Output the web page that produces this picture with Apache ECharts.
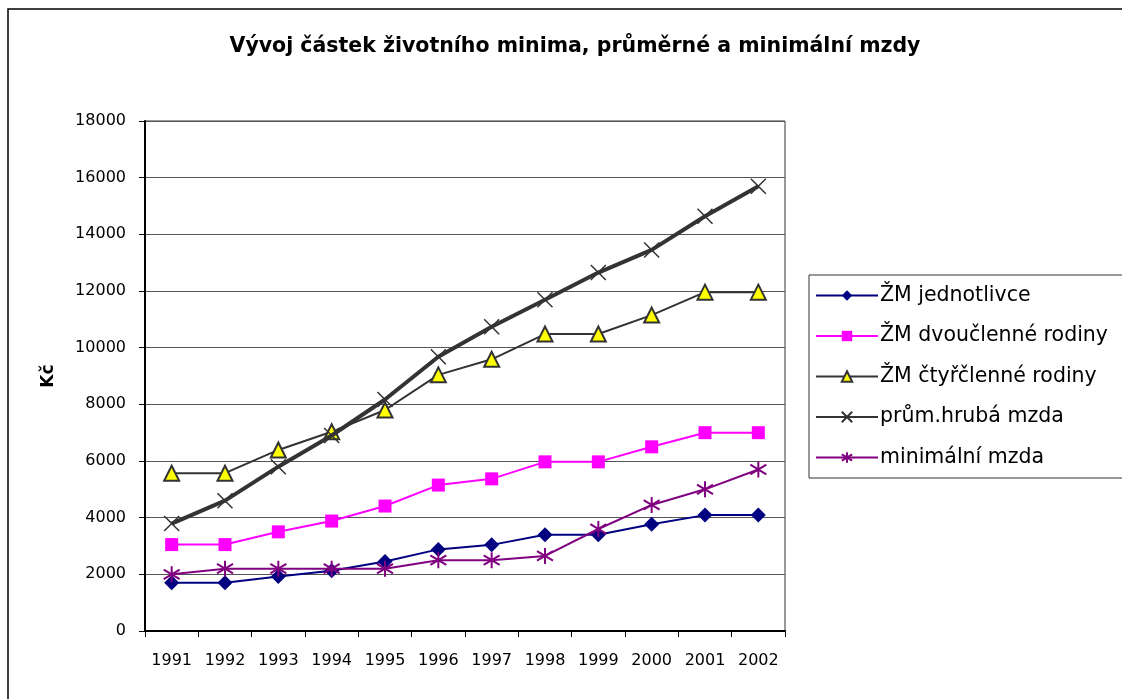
<!DOCTYPE html>
<html>
<head>
<meta charset="utf-8">
<script src="https://cdn.jsdelivr.net/npm/echarts@6/dist/echarts.min.js"></script>
<style>
  html, body { margin: 0; padding: 0; background: #fff; }
  #chart { width: 1122px; height: 699px; }
</style>
</head>
<body>
<div id="chart"></div>
<script>
const years = ['1991', '1992', '1993', '1994', '1995', '1996', '1997', '1998', '1999', '2000', '2001', '2002']
const zmJednotlivce = [1700, 1700, 1920, 2130, 2450, 2880, 3040, 3400, 3400, 3770, 4090, 4090]
const zmDvouclenne = [3050, 3050, 3500, 3880, 4410, 5150, 5370, 5970, 5970, 6500, 7000, 7000]
const zmCtyrclenne = [5570, 5570, 6390, 7030, 7800, 9040, 9590, 10480, 10480, 11150, 11960, 11960]
const prumHrubaMzda = [3792, 4600, 5800, 6900, 8170, 9680, 10740, 11690, 12650, 13450, 14640, 15700]
const minimalniMzda = [2000, 2200, 2200, 2200, 2200, 2500, 2500, 2650, 3600, 4450, 5000, 5700]

const font = '"DejaVu Sans", Verdana, sans-serif'
const chart = echarts.init(document.getElementById('chart'))

// tenký křížek a hvězdička jako SVG cesty
const crossPath = 'path://M0,0 L10,10 M10,0 L0,10'
const starPath = 'path://M5,0 L5,10 M0,2 L10,8 M0,8 L10,2'

const option = {
  backgroundColor: '#fff',
  animation: false,
  title: {
    text: 'Vývoj částek životního minima, průměrné a minimální mzdy',
    left: 570,
    textAlign: 'center',
    top: 31,
    textStyle: { fontFamily: font, fontSize: 20.5, fontWeight: 'bold', color: '#000' }
  },
  graphic: [
    {
      type: 'rect',
      shape: { x: 8, y: 9, width: 1130, height: 700 },
      style: { fill: 'none', stroke: '#000', lineWidth: 1.5 },
      silent: true
    }
  ],
  legend: {
    orient: 'vertical',
    left: 809,
    top: 275,
    width: 330,
    padding: [10, 40, 10, 6],
    itemWidth: 62,
    itemHeight: 13,
    itemGap: 19.5,
    borderColor: '#333',
    borderWidth: 1,
    textStyle: { fontFamily: font, fontSize: 20.5, color: '#000', padding: [0, 0, 0, -3] },
    data: ['ŽM jednotlivce', 'ŽM dvoučlenné rodiny', 'ŽM čtyřčlenné rodiny', 'prům.hrubá mzda', 'minimální mzda']
  },
  grid: {
    left: 145,
    top: 121,
    width: 640,
    height: 510,
    show: true,
    borderColor: '#333',
    borderWidth: 1,
    containLabel: false
  },
  xAxis: {
    type: 'category',
    data: years,
    boundaryGap: true,
    axisLine: { lineStyle: { color: '#000', width: 2 } },
    axisTick: { show: true, alignWithLabel: false, length: 6, lineStyle: { color: '#000', width: 1 } },
    axisLabel: { fontFamily: font, fontSize: 16, color: '#000', margin: 22 },
    splitLine: { show: false }
  },
  yAxis: {
    type: 'value',
    min: 0,
    max: 18000,
    interval: 2000,
    name: 'Kč',
    nameLocation: 'middle',
    nameGap: 88,
    nameRotate: 90,
    nameTextStyle: { fontFamily: font, fontSize: 17, fontWeight: 'bold', color: '#000' },
    axisLine: { show: true, lineStyle: { color: '#000', width: 2 } },
    axisTick: { show: true, length: 6, lineStyle: { color: '#000' } },
    axisLabel: { fontFamily: font, fontSize: 16, color: '#000', margin: 19, formatter: v => String(v) },
    splitLine: { show: true, lineStyle: { color: '#555', width: 1 } }
  },
  series: [
    {
      name: 'ŽM jednotlivce',
      type: 'line',
      data: zmJednotlivce,
      symbol: 'diamond',
      symbolSize: 15,
      color: '#000080',
      lineStyle: { color: '#000080', width: 2 },
      itemStyle: { color: '#000080' },
      z: 5
    },
    {
      name: 'ŽM dvoučlenné rodiny',
      type: 'line',
      data: zmDvouclenne,
      symbol: 'rect',
      symbolSize: 13,
      color: '#ff00ff',
      lineStyle: { color: '#ff00ff', width: 2 },
      itemStyle: { color: '#ff00ff' },
      z: 4
    },
    {
      name: 'ŽM čtyřčlenné rodiny',
      type: 'line',
      data: zmCtyrclenne,
      symbol: 'triangle',
      symbolSize: 15,
      color: '#333333',
      lineStyle: { color: '#333333', width: 2 },
      itemStyle: { color: '#ffff00', borderColor: '#333333', borderWidth: 2 },
      z: 3
    },
    {
      name: 'prům.hrubá mzda',
      type: 'line',
      data: prumHrubaMzda,
      symbol: crossPath,
      symbolSize: 15,
      color: '#333333',
      lineStyle: { color: '#333333', width: 4 },
      itemStyle: { color: 'none', borderColor: '#333333', borderWidth: 1.5 },
      z: 6
    },
    {
      name: 'minimální mzda',
      type: 'line',
      data: minimalniMzda,
      symbol: starPath,
      symbolSize: 16,
      color: '#800080',
      lineStyle: { color: '#800080', width: 2 },
      itemStyle: { color: 'none', borderColor: '#800080', borderWidth: 2 },
      z: 7
    }
  ]
}

chart.setOption(option)
</script>
</body>
</html>
